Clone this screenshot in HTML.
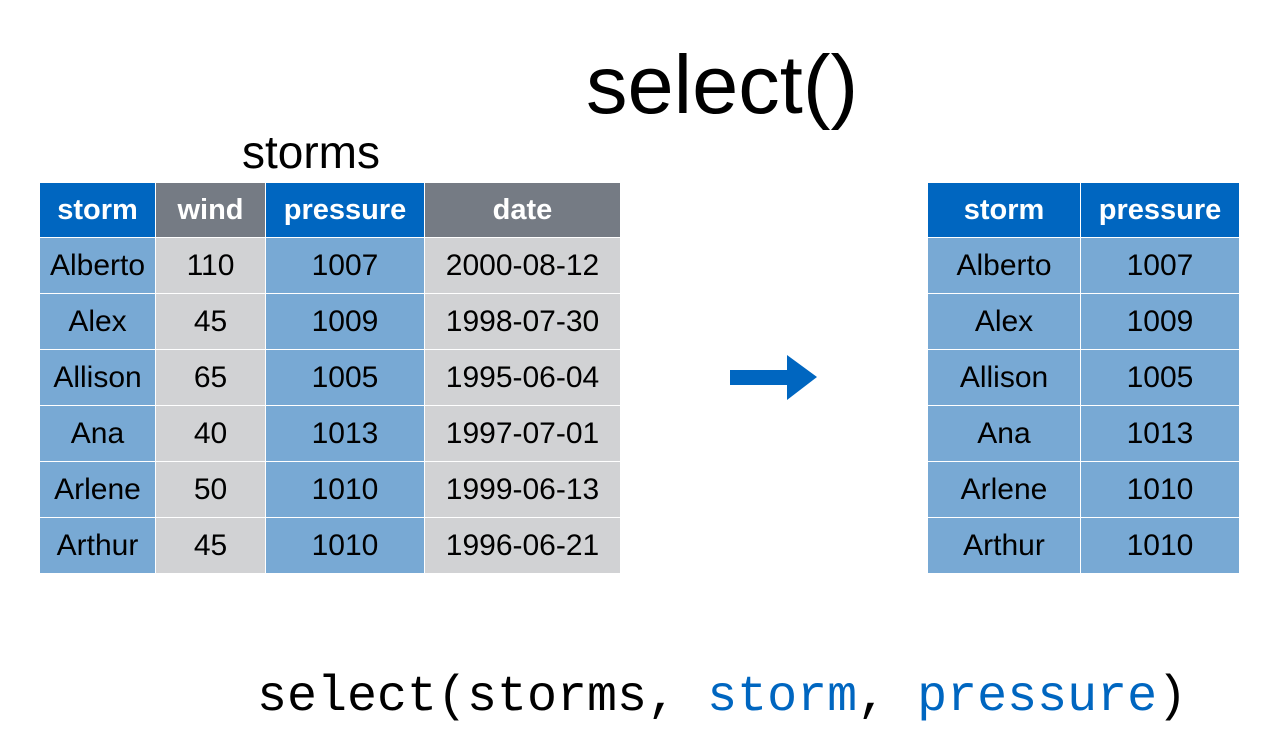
<!DOCTYPE html>
<html><head><style>
body{margin:0;width:1279px;height:741px;background:#fff;position:relative;overflow:hidden;font-family:"Liberation Sans",sans-serif}
table{position:absolute;border-collapse:collapse;top:182px}
td{height:55px;padding:0;text-align:center;font-size:30px;color:#000;border:1px solid #fff}
th{height:54px;padding:0;text-align:center;font-size:29px;color:#fff;font-weight:bold;border:1px solid #fff}
.hb{background:#0066c0}.hg{background:#757b84}
.b{background:#78a9d4}.g{background:#d1d2d4}
.t{position:absolute;white-space:nowrap}
</style></head><body>
<div class="t" style="left:586px;top:37px;font-size:83px;">select()</div>
<div class="t" style="left:242px;top:125px;font-size:46px;">storms</div>
<table style="left:39px;width:582px">
<tr><th class="hb" style="width:115px">storm</th><th class="hg" style="width:109px">wind</th><th class="hb" style="width:158px">pressure</th><th class="hg">date</th></tr>
<tr><td class="b">Alberto</td><td class="g">110</td><td class="b">1007</td><td class="g">2000-08-12</td></tr>
<tr><td class="b">Alex</td><td class="g">45</td><td class="b">1009</td><td class="g">1998-07-30</td></tr>
<tr><td class="b">Allison</td><td class="g">65</td><td class="b">1005</td><td class="g">1995-06-04</td></tr>
<tr><td class="b">Ana</td><td class="g">40</td><td class="b">1013</td><td class="g">1997-07-01</td></tr>
<tr><td class="b">Arlene</td><td class="g">50</td><td class="b">1010</td><td class="g">1999-06-13</td></tr>
<tr><td class="b">Arthur</td><td class="g">45</td><td class="b">1010</td><td class="g">1996-06-21</td></tr>
</table>
<table style="left:927px;width:313px">
<tr><th class="hb" style="width:152px">storm</th><th class="hb">pressure</th></tr>
<tr><td class="b">Alberto</td><td class="b">1007</td></tr>
<tr><td class="b">Alex</td><td class="b">1009</td></tr>
<tr><td class="b">Allison</td><td class="b">1005</td></tr>
<tr><td class="b">Ana</td><td class="b">1013</td></tr>
<tr><td class="b">Arlene</td><td class="b">1010</td></tr>
<tr><td class="b">Arthur</td><td class="b">1010</td></tr>
</table>
<svg class="t" style="left:0;top:0" width="1279" height="741"><polygon points="730,370 787,370 787,355 817,377 787,400 787,385 730,385" fill="#0066c0"/></svg>
<div class="t" style="left:257px;top:668px;font-size:50px;font-family:'Liberation Mono',monospace;line-height:60px">select(storms, <span style="color:#0066c0">storm</span>, <span style="color:#0066c0">pressure</span>)</div>
</body></html>
